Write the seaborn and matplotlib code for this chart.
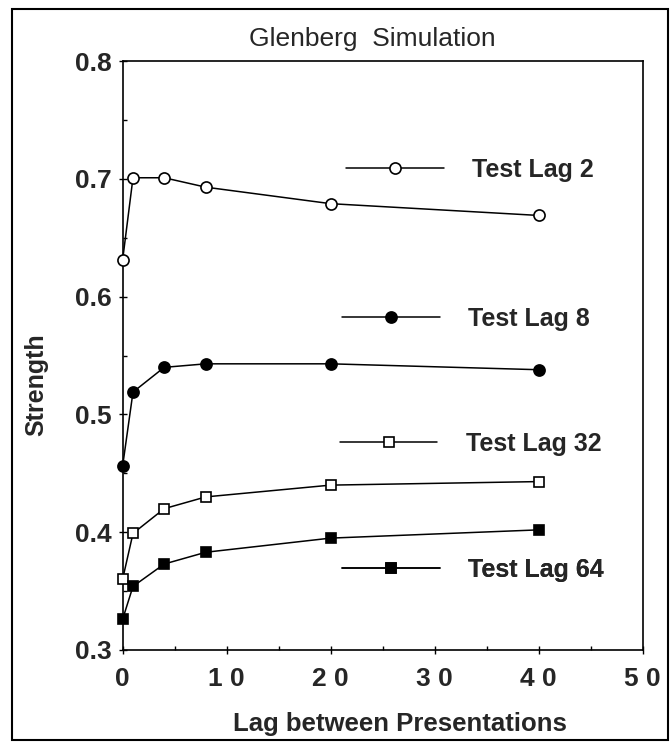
import numpy as np
import pandas as pd
import matplotlib
matplotlib.use('Agg')
import matplotlib.pyplot as plt
import matplotlib.patches as patches
import seaborn as sns

# data
lag = [0, 1, 4, 8, 20, 40]
test_lag_2 = [0.631, 0.701, 0.701, 0.693, 0.679, 0.669]
test_lag_8 = [0.456, 0.519, 0.540, 0.543, 0.543, 0.538]
test_lag_32 = [0.360, 0.399, 0.420, 0.430, 0.440, 0.443]
test_lag_64 = [0.326, 0.354, 0.373, 0.383, 0.395, 0.402]
series_names = ['Test Lag 2', 'Test Lag 8', 'Test Lag 32', 'Test Lag 64']

x_ticks = [0, 10, 20, 30, 40, 50]
x_tick_labels = ['0', '1 0', '2 0', '3 0', '4 0', '5 0']
y_ticks = [0.3, 0.4, 0.5, 0.6, 0.7, 0.8]
y_tick_labels = ['0.3', '0.4', '0.5', '0.6', '0.7', '0.8']

sns.set_style('ticks')
plt.rcParams['font.family'] = ['Liberation Sans', 'DejaVu Sans']

fig = plt.figure(figsize=(6.71, 7.46), dpi=100)
ax = fig.add_axes([0.1827, 0.1287, 0.775, 0.7893])

styles = [
    dict(marker='o', markerfacecolor='white', markersize=8),
    dict(marker='o', markerfacecolor='black', markersize=8),
    dict(marker='s', markerfacecolor='white', markersize=7.5),
    dict(marker='s', markerfacecolor='black', markersize=7.5),
]
values = [test_lag_2, test_lag_8, test_lag_32, test_lag_64]

# legend anchors (axes fraction) -- the keys are hand-placed in the original
legend_pos = [(0.43, 0.816), (0.422, 0.562), (0.418, 0.35), (0.422, 0.136)]

for name, vals, st, pos in zip(series_names, values, styles, legend_pos):
    sns.lineplot(x=lag, y=vals, ax=ax, color='black', linewidth=1.1,
                 markeredgecolor='black', markeredgewidth=1.2, legend=False,
                 clip_on=False, zorder=3, **st)
    line = ax.get_lines()[-1]
    leg = ax.legend([line], [name], loc='center left', bbox_to_anchor=pos,
                    frameon=False, handlelength=3.9, handletextpad=1.15,
                    borderpad=0, borderaxespad=0, numpoints=1,
                    prop={'size': 18, 'weight': 'bold'})
    ax.add_artist(leg)

ax.set_xlim(0, 50)
ax.set_ylim(0.3, 0.8)
ax.set_xticks(x_ticks)
ax.set_xticklabels(x_tick_labels, fontsize=19, fontweight='bold')
ax.set_yticks(y_ticks)
ax.set_yticklabels(y_tick_labels, fontsize=19, fontweight='bold')
ax.set_xticks(np.arange(5, 50, 10), minor=True)
ax.set_yticks(np.arange(0.35, 0.8, 0.1), minor=True)
ax.tick_params(which='major', direction='inout', length=6, width=1, color='black')
ax.tick_params(which='minor', direction='in', length=3, width=1, color='black')
ax.tick_params(axis='x', which='major', pad=9)
ax.tick_params(axis='y', which='major', pad=5)

for s in ax.spines.values():
    s.set_color('black')
    s.set_linewidth(1.2)

ax.set_xlabel('Lag between Presentations', fontsize=18.5, fontweight='bold')
ax.xaxis.set_label_coords(0.533, -0.105)
ax.set_ylabel('Strength', fontsize=18, fontweight='bold')
ax.yaxis.set_label_coords(-0.143, 0.45)
ax.set_title('Glenberg  Simulation', fontsize=19, pad=11)
ax.title.set_x(0.48)

# frame around the whole figure
fig.patches.append(patches.Rectangle((0.018, 0.008), 0.977, 0.98, transform=fig.transFigure,
                                     fill=False, edgecolor='black', linewidth=1.5))

fig.savefig('out.png', dpi=100, facecolor='white')
